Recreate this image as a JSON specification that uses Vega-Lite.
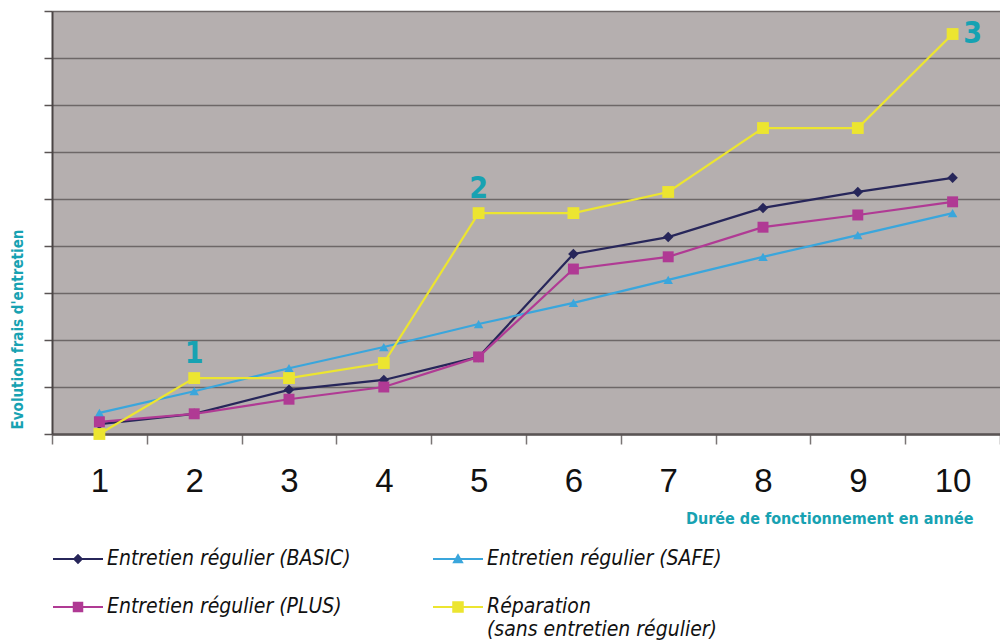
{
  "$schema": "https://vega.github.io/schema/vega-lite/v6.json",
  "description": "Evolution des frais d'entretien selon la durée de fonctionnement",
  "width": 948,
  "height": 423,
  "autosize": {"type": "none"},
  "padding": {"left": 52, "top": 11, "right": 0, "bottom": 208},
  "background": "white",
  "config": {
    "view": {"fill": "#b5afaf", "stroke": null},
    "font": "DejaVu Sans Condensed"
  },
  "data": {
    "values": [
      {"annee": 1, "serie": "Entretien régulier (BASIC)", "cout": 21},
      {"annee": 2, "serie": "Entretien régulier (BASIC)", "cout": 43},
      {"annee": 3, "serie": "Entretien régulier (BASIC)", "cout": 94},
      {"annee": 4, "serie": "Entretien régulier (BASIC)", "cout": 115},
      {"annee": 5, "serie": "Entretien régulier (BASIC)", "cout": 164},
      {"annee": 6, "serie": "Entretien régulier (BASIC)", "cout": 383},
      {"annee": 7, "serie": "Entretien régulier (BASIC)", "cout": 419},
      {"annee": 8, "serie": "Entretien régulier (BASIC)", "cout": 481},
      {"annee": 9, "serie": "Entretien régulier (BASIC)", "cout": 515},
      {"annee": 10, "serie": "Entretien régulier (BASIC)", "cout": 545},
      {"annee": 1, "serie": "Entretien régulier (SAFE)", "cout": 45},
      {"annee": 2, "serie": "Entretien régulier (SAFE)", "cout": 91},
      {"annee": 3, "serie": "Entretien régulier (SAFE)", "cout": 140},
      {"annee": 4, "serie": "Entretien régulier (SAFE)", "cout": 185},
      {"annee": 5, "serie": "Entretien régulier (SAFE)", "cout": 234},
      {"annee": 6, "serie": "Entretien régulier (SAFE)", "cout": 279},
      {"annee": 7, "serie": "Entretien régulier (SAFE)", "cout": 328},
      {"annee": 8, "serie": "Entretien régulier (SAFE)", "cout": 377},
      {"annee": 9, "serie": "Entretien régulier (SAFE)", "cout": 423},
      {"annee": 10, "serie": "Entretien régulier (SAFE)", "cout": 470},
      {"annee": 1, "serie": "Entretien régulier (PLUS)", "cout": 26},
      {"annee": 2, "serie": "Entretien régulier (PLUS)", "cout": 43},
      {"annee": 3, "serie": "Entretien régulier (PLUS)", "cout": 74},
      {"annee": 4, "serie": "Entretien régulier (PLUS)", "cout": 100},
      {"annee": 5, "serie": "Entretien régulier (PLUS)", "cout": 164},
      {"annee": 6, "serie": "Entretien régulier (PLUS)", "cout": 351},
      {"annee": 7, "serie": "Entretien régulier (PLUS)", "cout": 377},
      {"annee": 8, "serie": "Entretien régulier (PLUS)", "cout": 440},
      {"annee": 9, "serie": "Entretien régulier (PLUS)", "cout": 466},
      {"annee": 10, "serie": "Entretien régulier (PLUS)", "cout": 494},
      {"annee": 1, "serie": "Réparation (sans entretien régulier)", "cout": 0},
      {"annee": 2, "serie": "Réparation (sans entretien régulier)", "cout": 119},
      {"annee": 3, "serie": "Réparation (sans entretien régulier)", "cout": 119},
      {"annee": 4, "serie": "Réparation (sans entretien régulier)", "cout": 151},
      {"annee": 5, "serie": "Réparation (sans entretien régulier)", "cout": 470},
      {"annee": 6, "serie": "Réparation (sans entretien régulier)", "cout": 470},
      {"annee": 7, "serie": "Réparation (sans entretien régulier)", "cout": 515},
      {"annee": 8, "serie": "Réparation (sans entretien régulier)", "cout": 651},
      {"annee": 9, "serie": "Réparation (sans entretien régulier)", "cout": 651},
      {"annee": 10, "serie": "Réparation (sans entretien régulier)", "cout": 851}
    ]
  },
  "encoding": {
    "x": {
      "field": "annee",
      "type": "ordinal",
      "scale": {"type": "band", "paddingInner": 0, "paddingOuter": 0},
      "axis": {
        "title": "Durée de fonctionnement en année",
        "titleColor": "#17a2b2",
        "titleFontSize": 16,
        "titleFontWeight": "bold",
        "titleAlign": "right",
        "titleBaseline": "middle",
        "titleX": 921,
        "titleY": 84,
        "labelAngle": 0,
        "labelFont": "Liberation Sans",
        "labelFontSize": 33,
        "labelColor": "#111111",
        "labelBaseline": "middle",
        "labelPadding": 37,
        "tickBand": "extent",
        "tickSize": 10,
        "tickColor": "#7a7575",
        "tickWidth": 1.5,
        "domainColor": "#5a5454",
        "domainWidth": 2.5,
        "grid": false
      }
    },
    "y": {
      "field": "cout",
      "type": "quantitative",
      "scale": {"domain": [0, 900], "nice": false},
      "axis": {
        "title": "Evolution frais d'entretien",
        "titleColor": "#17a2b2",
        "titleFontSize": 15,
        "titleFontWeight": "bold",
        "titleAngle": 270,
        "titleAlign": "center",
        "titleBaseline": "middle",
        "titleX": -35,
        "titleY": 318,
        "values": [0, 100, 200, 300, 400, 500, 600, 700, 800, 900],
        "labels": false,
        "tickSize": 8,
        "tickColor": "#5a5454",
        "tickWidth": 1.5,
        "domainColor": "#4a4444",
        "domainWidth": 2,
        "grid": true,
        "gridColor": "#6d6767",
        "gridWidth": 1.5
      }
    },
    "color": {
      "field": "serie",
      "type": "nominal",
      "scale": {
        "domain": ["Entretien régulier (BASIC)", "Entretien régulier (SAFE)", "Entretien régulier (PLUS)", "Réparation (sans entretien régulier)"],
        "range": ["#27265a", "#3aa6dc", "#b03a94", "#ece530"]
      },
      "legend": {
        "title": null,
        "orient": "none",
        "direction": "horizontal",
        "legendX": 0,
        "legendY": 522,
        "columns": 2,
        "columnPadding": 78,
        "rowPadding": 12,
        "symbolSize": 2500,
        "symbolStrokeWidth": 2,
        "symbolOpacity": 1,
        "labelOffset": 3,
        "labelFontSize": 21,
        "labelFontStyle": "italic",
        "labelColor": "#111111",
        "labelLimit": 400,
        "labelExpr": "datum.label == 'Réparation (sans entretien régulier)' ? ['Réparation', '(sans entretien régulier)'] : datum.label",
        "encode": {
          "symbols": {
            "update": {
              "size": {"value": 2500},
              "strokeWidth": {"value": 2}
            }
          }
        }
      }
    }
  },
  "layer": [
    {
      "mark": {"type": "line", "strokeWidth": 2.2},
      "encoding": {"detail": {"field": "serie"}}
    },
    {
      "mark": {"type": "point", "filled": false, "opacity": 0, "strokeWidth": 2},
      "encoding": {
        "shape": {
          "field": "serie",
          "type": "nominal",
          "scale": {
            "domain": ["Entretien régulier (BASIC)", "Entretien régulier (SAFE)", "Entretien régulier (PLUS)", "Réparation (sans entretien régulier)"],
            "range": [
              "M-1,0H1M0,-0.15L0.15,0L0,0.15L-0.15,0ZM0,-0.07L0.07,0L0,0.07L-0.07,0Z",
              "M-1,0H1M-0.16,0.13L0,-0.15L0.16,0.13ZM-0.07,0.07L0,-0.05L0.07,0.07Z",
              "M-1,0H1M-0.17,-0.17H0.17V0.17H-0.17ZM-0.08,-0.08H0.08V0.08H-0.08Z",
              "M-1,0H1M-0.19,-0.19H0.19V0.19H-0.19ZM-0.09,-0.09H0.09V0.09H-0.09Z"
            ]
          },
          "legend": null
        }
      }
    },
    {
      "transform": [{"filter": "datum.serie == 'Entretien régulier (BASIC)'"}],
      "mark": {"type": "point", "filled": true, "opacity": 1, "shape": "diamond", "size": 110}
    },
    {
      "transform": [{"filter": "datum.serie == 'Entretien régulier (SAFE)'"}],
      "mark": {"type": "point", "filled": true, "opacity": 1, "shape": "triangle-up", "size": 90}
    },
    {
      "transform": [{"filter": "datum.serie == 'Entretien régulier (PLUS)'"}],
      "mark": {"type": "point", "filled": true, "opacity": 1, "shape": "square", "size": 120}
    },
    {
      "transform": [{"filter": "datum.serie == 'Réparation (sans entretien régulier)'"}],
      "mark": {"type": "point", "filled": true, "opacity": 1, "shape": "square", "size": 140}
    },
    {
      "data": {
        "values": [
          {"annee": 2, "cout": 119, "repere": "1"},
          {"annee": 5, "cout": 470, "repere": "2"}
        ]
      },
      "mark": {"type": "text", "dy": -24, "fontSize": 30, "fontWeight": "bold", "color": "#17a2b2"},
      "encoding": {"text": {"field": "repere"}, "color": {"value": "#17a2b2"}}
    },
    {
      "data": {
        "values": [
          {"annee": 10, "cout": 851, "repere": "3"}
        ]
      },
      "mark": {"type": "text", "dx": 20, "fontSize": 30, "fontWeight": "bold", "color": "#17a2b2"},
      "encoding": {"text": {"field": "repere"}, "color": {"value": "#17a2b2"}}
    }
  ]
}
